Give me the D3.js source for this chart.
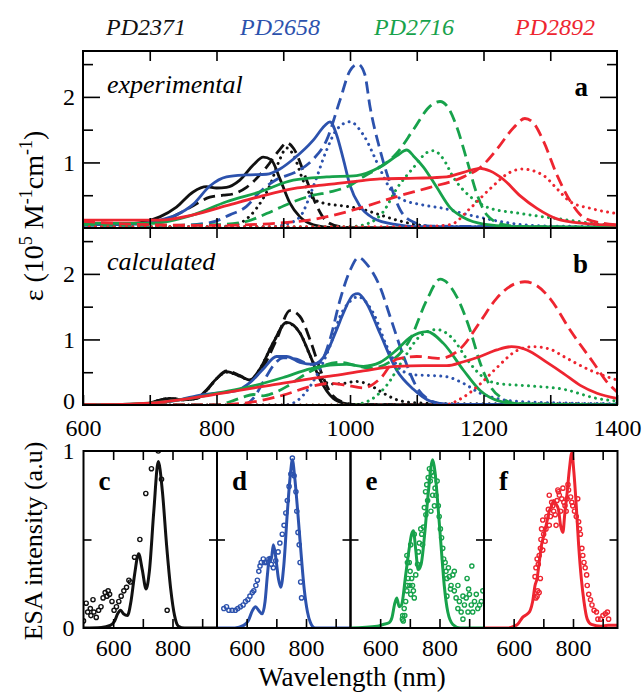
<!DOCTYPE html>
<html><head><meta charset="utf-8">
<script src="https://cdn.jsdelivr.net/npm/d3@7"></script>
<style>
html,body{margin:0;padding:0;background:#fff;}
svg{display:block;}
svg text{font-family:'Liberation Serif','DejaVu Serif',Times,serif;}
</style></head><body>
<svg id="chart" width="643" height="693"></svg>
<script>
// ---------- DATA ----------
const compounds = ["PD2371","PD2658","PD2716","PD2892"];
const colors = ["#111111","#2c52ad","#17a24b","#ee2530"];
const xTicksTop = [600,700,800,900,1000,1100,1200,1300,1400];
const yTicksTop = [0.5,1,1.5,2,2.5];
const xTicksESA = [600,700,800,900];

// (a) experimental  [wavelength nm, epsilon 1e5 M-1 cm-1]
const expK_solid = [[600,0.05],[660,0.06],[690,0.09],[715,0.17],[740,0.32],[765,0.55],[785,0.63],[800,0.61],[815,0.62],[835,0.73],[855,0.96],[870,1.08],[882,1.04],[895,0.75],[910,0.38],[925,0.17],[945,0.05],[970,0.01],[1000,0],[1400,0]];
const expK_dash  = [[600,0.06],[680,0.06],[715,0.1],[740,0.2],[765,0.34],[790,0.47],[810,0.5],[825,0.52],[845,0.62],[875,0.93],[895,1.2],[905,1.3],[915,1.22],[935,0.73],[950,0.34],[965,0.1],[985,0.02],[1010,0],[1400,0]];
const expK_dot   = [[600,0.02],[800,0.02],[820,0.03],[840,0.1],[860,0.3],[880,0.65],[895,1.05],[905,1.22],[915,1.12],[930,0.72],[945,0.45],[960,0.38],[995,0.33],[1020,0.28],[1045,0.2],[1070,0.12],[1095,0.06],[1130,0.02],[1400,0.01]];
const expB_solid = [[600,0.05],[680,0.06],[715,0.12],[740,0.2],[765,0.36],[790,0.64],[815,0.78],[845,0.81],[875,0.82],[895,0.9],[915,1.05],[945,1.34],[962,1.56],[970,1.62],[980,1.42],[990,1.05],[1000,0.65],[1015,0.33],[1035,0.15],[1070,0.05],[1100,0.02],[1400,0.01]];
const expB_dash  = [[600,0.04],[740,0.04],[790,0.08],[820,0.2],[845,0.33],[865,0.55],[890,0.74],[920,0.86],[945,1.05],[965,1.34],[985,1.95],[1000,2.4],[1012,2.5],[1022,2.35],[1030,1.85],[1045,1.19],[1060,0.68],[1075,0.28],[1095,0.09],[1120,0.03],[1400,0.01]];
const expB_dot   = [[600,0.02],[880,0.02],[905,0.06],[925,0.17],[945,0.63],[965,1.19],[980,1.5],[1000,1.62],[1020,1.42],[1045,0.9],[1060,0.6],[1075,0.45],[1110,0.35],[1140,0.3],[1170,0.22],[1200,0.15],[1250,0.06],[1300,0.03],[1400,0.02]];
const expG_solid = [[600,0.07],[700,0.07],[765,0.2],[815,0.4],[865,0.55],[915,0.73],[965,0.78],[1010,0.8],[1045,0.93],[1070,1.1],[1085,1.19],[1095,1.1],[1110,0.93],[1130,0.62],[1150,0.31],[1170,0.16],[1200,0.06],[1250,0.02],[1400,0.01]];
const expG_dash  = [[600,0.05],[700,0.04],[800,0.05],[845,0.1],[875,0.22],[915,0.4],[945,0.5],[970,0.55],[1000,0.65],[1020,0.78],[1045,0.93],[1070,1.14],[1095,1.5],[1120,1.86],[1135,1.93],[1148,1.82],[1160,1.54],[1175,1.04],[1190,0.52],[1205,0.2],[1230,0.05],[1260,0.02],[1400,0.01]];
const expG_dot   = [[600,0.02],[1000,0.02],[1030,0.08],[1050,0.25],[1070,0.6],[1095,0.92],[1115,1.15],[1125,1.18],[1140,1.05],[1155,0.77],[1180,0.48],[1210,0.3],[1250,0.23],[1320,0.13],[1385,0.05],[1400,0.04]];
const expR_solid = [[600,0.12],[715,0.12],[765,0.2],[815,0.34],[865,0.48],[915,0.6],[965,0.66],[1015,0.72],[1045,0.75],[1100,0.76],[1145,0.78],[1170,0.85],[1195,0.91],[1210,0.87],[1230,0.74],[1255,0.49],[1280,0.3],[1310,0.14],[1350,0.07],[1400,0.04]];
const expR_dash  = [[600,0.1],[650,0.07],[700,0.05],[800,0.04],[850,0.05],[900,0.08],[950,0.14],[985,0.22],[1020,0.32],[1070,0.48],[1120,0.62],[1170,0.78],[1195,0.92],[1220,1.2],[1245,1.53],[1262,1.67],[1275,1.6],[1290,1.32],[1310,0.81],[1330,0.41],[1350,0.16],[1380,0.07],[1400,0.05]];
const expR_dot   = [[600,0.02],[1100,0.02],[1150,0.05],[1180,0.3],[1210,0.6],[1240,0.85],[1258,0.9],[1290,0.8],[1310,0.6],[1330,0.4],[1360,0.3],[1400,0.22]];

// (b) calculated
const calK_solid = [[600,0],[690,0.01],[710,0.06],[730,0.1],[750,0.08],[770,0.1],[785,0.23],[800,0.4],[815,0.51],[835,0.44],[850,0.38],[865,0.55],[885,0.95],[905,1.26],[925,1.1],[940,0.76],[955,0.39],[975,0.1],[990,0.03],[1010,0.005],[1400,0]];
const calK_dash  = [[600,0],[690,0.01],[710,0.06],[730,0.1],[750,0.08],[770,0.1],[785,0.22],[800,0.4],[815,0.52],[835,0.45],[850,0.38],[868,0.55],[890,1.0],[910,1.44],[925,1.35],[940,1.0],[955,0.55],[970,0.2],[990,0.04],[1010,0.005],[1400,0]];
const calK_dot   = [[600,0],[690,0.01],[710,0.06],[730,0.1],[750,0.08],[770,0.1],[785,0.22],[800,0.4],[815,0.5],[835,0.44],[850,0.38],[865,0.55],[885,0.95],[905,1.25],[925,1.1],[940,0.76],[955,0.45],[970,0.32],[990,0.33],[1010,0.36],[1030,0.3],[1050,0.18],[1070,0.08],[1090,0.04],[1150,0.02],[1300,0.02],[1400,0.01]];
const calB_solid = [[600,0],[700,0.02],[740,0.07],[770,0.14],[800,0.18],[830,0.22],[850,0.34],[870,0.55],[890,0.74],[905,0.74],[925,0.65],[945,0.62],[965,0.8],[980,1.15],[990,1.4],[1005,1.68],[1012,1.7],[1025,1.55],[1045,1.09],[1070,0.53],[1095,0.24],[1120,0.06],[1150,0.01],[1400,0]];
const calB_dash  = [[600,0],[840,0],[855,0.1],[870,0.35],[885,0.6],[900,0.72],[920,0.7],[940,0.62],[955,0.65],[970,1.0],[985,1.6],[1000,2.05],[1013,2.25],[1025,2.15],[1045,1.8],[1060,1.35],[1080,0.75],[1100,0.27],[1120,0.07],[1140,0.01],[1400,0]];
const calB_dot   = [[600,0],[900,0],[915,0.03],[930,0.15],[950,0.45],[970,0.9],[985,1.35],[1000,1.58],[1012,1.65],[1035,1.4],[1055,0.9],[1075,0.55],[1095,0.46],[1120,0.45],[1145,0.43],[1170,0.33],[1195,0.18],[1220,0.1],[1245,0.06],[1320,0.03],[1400,0.02]];
const calG_solid = [[600,0],[700,0.03],[760,0.1],[800,0.18],[850,0.28],[900,0.42],[940,0.55],[970,0.61],[995,0.62],[1020,0.59],[1045,0.65],[1070,0.84],[1090,1.03],[1115,1.12],[1140,0.94],[1170,0.53],[1195,0.22],[1220,0.07],[1250,0.02],[1400,0]];
const calG_dash  = [[600,0],[800,0],[820,0.05],[840,0.12],[855,0.16],[870,0.14],[885,0.18],[905,0.28],[930,0.45],[955,0.58],[985,0.65],[1010,0.6],[1030,0.56],[1060,0.66],[1090,1.0],[1115,1.6],[1135,1.92],[1160,1.65],[1180,1.14],[1195,0.64],[1210,0.29],[1230,0.09],[1250,0.02],[1400,0]];
const calG_dot   = [[600,0],[1000,0],[1025,0.05],[1055,0.3],[1080,0.7],[1105,1.05],[1130,1.15],[1155,1.0],[1175,0.7],[1200,0.42],[1220,0.33],[1270,0.29],[1320,0.24],[1370,0.1],[1400,0.06]];
const calR_solid = [[600,0],[700,0.03],[760,0.1],[820,0.2],[880,0.3],[940,0.4],[970,0.44],[1020,0.52],[1070,0.59],[1110,0.6],[1145,0.6],[1170,0.66],[1195,0.74],[1220,0.84],[1242,0.89],[1265,0.84],[1295,0.65],[1320,0.48],[1345,0.3],[1370,0.18],[1400,0.1]];
const calR_dash  = [[600,0],[800,0],[850,0.04],[900,0.15],[940,0.28],[970,0.33],[995,0.3],[1020,0.26],[1045,0.4],[1070,0.7],[1100,0.74],[1135,0.71],[1170,0.91],[1195,1.27],[1220,1.63],[1245,1.84],[1262,1.88],[1280,1.82],[1300,1.62],[1330,1.14],[1365,0.64],[1385,0.35],[1400,0.2]];
const calR_dot   = [[600,0],[1140,0],[1170,0.12],[1195,0.32],[1220,0.57],[1250,0.83],[1275,0.89],[1300,0.85],[1320,0.74],[1360,0.53],[1400,0.38]];

// (c-f) ESA intensity: calculated line and measured points
const fitC = [[500,0],[560,0.003],[590,0.015],[605,0.04],[615,0.08],[625,0.1],[635,0.08],[648,0.07],[660,0.15],[672,0.3],[686,0.42],[698,0.33],[711,0.22],[722,0.32],[737,0.66],[752,0.94],[766,0.77],[780,0.47],[794,0.22],[807,0.07],[820,0.01],[840,0],[950,0]];
const fitD = [[500,0],[560,0],[590,0.015],[605,0.04],[620,0.1],[630,0.12],[640,0.1],[652,0.08],[662,0.15],[670,0.3],[677,0.4],[682,0.38],[690,0.47],[698,0.4],[707,0.28],[715,0.23],[725,0.35],[737,0.65],[748,0.88],[754,0.95],[762,0.85],[772,0.66],[782,0.45],[794,0.22],[805,0.09],[815,0.03],[830,0],[950,0]];
const fitE = [[500,0],[590,0.01],[610,0.02],[630,0.03],[640,0.06],[648,0.13],[656,0.17],[664,0.12],[672,0.13],[686,0.3],[698,0.45],[706,0.53],[712,0.55],[720,0.44],[728,0.33],[738,0.36],[750,0.53],[762,0.76],[777,0.95],[785,0.88],[792,0.75],[805,0.47],[816,0.24],[828,0.09],[845,0.02],[870,0],[950,0]];
const fitF = [[500,0],[580,0],[602,0.01],[613,0.02],[630,0.06],[647,0.08],[656,0.1],[664,0.15],[672,0.24],[679,0.28],[686,0.37],[694,0.47],[703,0.53],[712,0.6],[720,0.66],[728,0.69],[735,0.72],[743,0.7],[751,0.67],[758,0.58],[766,0.54],[772,0.64],[780,0.76],[788,0.9],[796,0.99],[803,0.88],[811,0.69],[819,0.47],[828,0.28],[837,0.15],[848,0.05],[862,0.02],[895,0.01],[918,0.015],[950,0.015]];

const ptsC = [[500,0.04],[509,0.14],[514,0.09],[523,0.11],[525,0.07],[532,0.16],[535,0.09],[543,0.06],[551,0.1],[559,0.12],[566,0.17],[573,0.2],[579,0.18],[583,0.21],[588,0.19],[596,0.15],[603,0.1],[611,0.12],[619,0.15],[627,0.18],[636,0.21],[645,0.23],[653,0.27],[658,0.26],[672,0.4],[690,0.5],[710,0.76],[729,0.9],[752,1.0],[763,0.84],[782,0.1]];
const ptsD = [[523,0.11],[532,0.12],[540,0.1],[551,0.1],[562,0.1],[570,0.11],[579,0.12],[588,0.13],[596,0.15],[604,0.16],[611,0.18],[619,0.2],[624,0.21],[631,0.24],[636,0.27],[641,0.32],[645,0.35],[649,0.37],[656,0.39],[660,0.37],[667,0.37],[675,0.39],[683,0.36],[690,0.34],[698,0.38],[706,0.43],[712,0.48],[720,0.53],[726,0.58],[732,0.65],[737,0.72],[743,0.8],[749,0.87],[754,0.96],[760,0.86],[766,0.77],[769,0.66],[773,0.54],[777,0.47],[780,0.37],[782,0.26],[785,0.17]];
const ptsE = [[675,0.05],[676,0.07],[681,0.11],[686,0.15],[690,0.21],[692,0.24],[694,0.28],[690,0.41],[698,0.37],[701,0.32],[706,0.28],[709,0.24],[712,0.21],[715,0.17],[720,0.3],[726,0.36],[729,0.43],[732,0.48],[737,0.56],[740,0.53],[743,0.47],[746,0.57],[749,0.68],[753,0.77],[757,0.81],[762,0.85],[766,0.9],[769,0.83],[773,0.88],[777,0.75],[780,0.86],[785,0.79],[788,0.75],[792,0.83],[796,0.69],[799,0.63],[803,0.56],[807,0.51],[811,0.45],[814,0.39],[819,0.37],[822,0.32],[825,0.28],[830,0.34],[833,0.29],[839,0.24],[845,0.3],[850,0.21],[856,0.17],[862,0.11],[867,0.15],[873,0.09],[879,0.05],[884,0.13],[890,0.17],[893,0.28],[898,0.22],[901,0.19],[907,0.13],[909,0.35],[912,0.09],[918,0.15],[924,0.19],[929,0.11],[935,0.13],[941,0.15],[946,0.21],[896,0.09],[879,0.18],[850,0.32],[862,0.24],[837,0.22],[825,0.18],[715,0.53],[703,0.47],[692,0.37],[700,0.24],[703,0.19],[683,0.07],[678,0.04],[783,0.69],[771,0.66],[754,0.64],[760,0.72]];
const ptsF = [[672,0.29],[675,0.34],[679,0.39],[683,0.36],[686,0.41],[690,0.45],[694,0.56],[698,0.61],[692,0.5],[701,0.53],[706,0.49],[709,0.56],[712,0.63],[717,0.67],[720,0.58],[724,0.63],[728,0.71],[732,0.69],[735,0.66],[740,0.64],[743,0.58],[746,0.72],[751,0.77],[754,0.75],[758,0.66],[762,0.73],[766,0.79],[769,0.71],[773,0.69],[777,0.66],[780,0.73],[785,0.78],[792,0.74],[796,0.71],[799,0.69],[805,0.66],[811,0.63],[816,0.73],[819,0.6],[822,0.56],[825,0.53],[830,0.45],[833,0.41],[837,0.37],[841,0.34],[846,0.3],[848,0.24],[853,0.19],[859,0.16],[864,0.13],[871,0.1],[879,0.09],[884,0.05],[893,0.05],[901,0.07],[909,0.08],[916,0.09],[920,0.05],[681,0.21],[675,0.17],[679,0.18],[686,0.2],[698,0.44],[690,0.28],[720,0.75],[749,0.78],[783,0.81]];

// ---------- BUILD ----------
const expSeries = [[expK_solid,expK_dash,expK_dot],[expB_solid,expB_dash,expB_dot],[expG_solid,expG_dash,expG_dot],[expR_solid,expR_dash,expR_dot]];
const calSeries = [[calK_solid,calK_dash,calK_dot],[calB_solid,calB_dash,calB_dot],[calG_solid,calG_dash,calG_dot],[calR_solid,calR_dash,calR_dot]];
const esaFits = [fitC, fitD, fitE, fitF];
const esaPts = [ptsC, ptsD, ptsE, ptsF];
const esaLetters = ["c","d","e","f"];

const svg = d3.select("#chart");
const X0=83, X1=617, YT=51, YM=228, YB=405;
const x = d3.scaleLinear().domain([600,1400]).range([X0,X1]);
const yA = d3.scaleLinear().domain([0,2.7]).range([YM,YT]);
const yB = d3.scaleLinear().domain([0,2.7]).range([YB,YM]);
const dashes = [null, "12,6", "0.01,6.2"];
let clipId = 0;

function styleAxis(g){
  g.select(".domain").remove();
  g.attr("font-family", null).attr("font-size", 24);
  g.selectAll("line").attr("stroke","#000").attr("stroke-width",1.6);
  g.selectAll("text").attr("fill","#000");
}
function clipRect(x0,y0,w,h){
  const id = "clip"+(clipId++);
  svg.append("clipPath").attr("id",id).append("rect").attr("x",x0).attr("y",y0).attr("width",w).attr("height",h);
  return "url(#"+id+")";
}

function topPanel(y, series, word, letter, labelsY, showX){
  const [yb, yt] = y.range();
  const cp = clipRect(X0, yt, X1-X0, yb-yt);
  const g = svg.append("g");
  const line = d3.line().x(d=>x(d[0])).y(d=>y(d[1])).curve(d3.curveMonotoneX);
  series.forEach((trip,i)=>trip.forEach((data,j)=>{
    g.append("path").datum(data).attr("d",line).attr("clip-path",cp)
      .attr("fill","none").attr("stroke",colors[i])
      .attr("stroke-width", j===2?3:2.8)
      .attr("stroke-dasharray", dashes[j])
      .attr("stroke-linecap", j===2?"round":"butt")
      .attr("stroke-linejoin","round");
  }));
  const minorY = yTicksTop.filter(v=>v%1!==0), majorY = yTicksTop.filter(v=>v%1===0);
  svg.append("g").attr("transform",`translate(${X0},0)`).call(d3.axisLeft(y).tickValues(minorY).tickSize(-10).tickFormat("")).call(styleAxis);
  svg.append("g").attr("transform",`translate(${X0},0)`).call(d3.axisLeft(y).tickValues(majorY).tickSize(-17).tickFormat("")).call(styleAxis);
  svg.append("g").attr("transform",`translate(${X0},0)`).call(d3.axisLeft(y).tickValues(labelsY).tickSize(0).tickPadding(8).tickFormat(d3.format("d")))
    .call(styleAxis).call(g=>g.selectAll("text").filter(d=>d===0).attr("dy","0.15em"));
  svg.append("g").attr("transform",`translate(${X1},0)`).call(d3.axisRight(y).tickValues(minorY).tickSize(-10).tickFormat("")).call(styleAxis);
  svg.append("g").attr("transform",`translate(${X1},0)`).call(d3.axisRight(y).tickValues(majorY).tickSize(-17).tickFormat("")).call(styleAxis);
  svg.append("g").attr("transform",`translate(0,${yt})`).call(d3.axisTop(x).tickValues(xTicksTop.slice(1,-1)).tickSize(-10).tickFormat("")).call(styleAxis);
  svg.append("g").attr("transform",`translate(0,${yb})`).call(d3.axisBottom(x).tickValues(showX?xTicksTop:xTicksTop.slice(1,-1)).tickSize(-10).tickPadding(14)
      .tickFormat(d=> showX && d%200===0 ? d3.format("d")(d) : "")).call(styleAxis);
  svg.append("rect").attr("x",X0).attr("y",yt).attr("width",X1-X0).attr("height",yb-yt)
    .attr("fill","none").attr("stroke","#000").attr("stroke-width",2);
  svg.append("text").attr("x",107).attr("y",yt+42).attr("font-style","italic")
    .attr("font-size",26).text(word);
  svg.append("text").attr("x",588).attr("y",yt+45).attr("text-anchor","end")
    .attr("font-weight","bold").attr("font-size",27).text(letter);
}

topPanel(yA, expSeries, "experimental", "a", [1,2], false);
topPanel(yB, calSeries, "calculated", "b", [0,1,2], true);

// compound labels
const legendX = [146, 280, 414, 555];
compounds.forEach((c,i)=>{
  svg.append("text").attr("x",legendX[i]).attr("y",35).attr("text-anchor","middle")
    .attr("font-style","italic").attr("font-size",24)
    .attr("fill",colors[i]).text(c);
});

// y label top
const yl = svg.append("text").attr("transform","translate(43,216) rotate(-90)")
  .attr("text-anchor","middle").attr("font-size",28).attr("fill","#000");
yl.append("tspan").text("\u03b5   (10");
yl.append("tspan").attr("dy",-11).attr("font-size",18).text("5");
yl.append("tspan").attr("dy",11).text(" M");
yl.append("tspan").attr("dy",-11).attr("font-size",18).text("-1");
yl.append("tspan").attr("dy",11).text("cm");
yl.append("tspan").attr("dy",-11).attr("font-size",18).text("-1");
yl.append("tspan").attr("dy",11).text(")");

// ---------- ESA panels ----------
const BX = [83.5, 217, 350.5, 484, 617.5];
const BT = 451, BBot = 628;
const yE = d3.scaleLinear().domain([0,1]).range([BBot,BT]);
esaFits.forEach((fit,k)=>{
  const xs = d3.scaleLinear().domain([500,950]).range([BX[k],BX[k+1]]);
  const cp = clipRect(BX[k], BT, BX[k+1]-BX[k], BBot-BT);
  const g = svg.append("g");
  g.selectAll("circle").data(esaPts[k]).join("circle")
    .attr("cx",d=>xs(d[0])).attr("cy",d=>yE(d[1])).attr("r",2.1)
    .attr("fill","none").attr("stroke",colors[k]).attr("stroke-width",1.4).attr("clip-path",cp);
  g.append("path").datum(fit).attr("d",d3.line().x(d=>xs(d[0])).y(d=>yE(d[1])).curve(d3.curveMonotoneX))
    .attr("fill","none").attr("stroke",colors[k]).attr("stroke-width",3).attr("stroke-linejoin","round").attr("clip-path",cp);
  svg.append("g").attr("transform",`translate(0,${BBot})`).call(d3.axisBottom(xs).tickValues(xTicksESA).tickSize(-9).tickPadding(11)
    .tickFormat(d=> d%200===0 ? d3.format("d")(d) : "")).call(styleAxis);
  svg.append("g").attr("transform",`translate(0,${BT})`).call(d3.axisTop(xs).tickValues(xTicksESA).tickSize(-9).tickFormat("")).call(styleAxis);
  svg.append("g").attr("transform",`translate(${BX[k]},0)`).call(d3.axisLeft(yE).tickValues([0.5]).tickSize(-8).tickFormat("")).call(styleAxis);
  svg.append("g").attr("transform",`translate(${BX[k+1]},0)`).call(d3.axisRight(yE).tickValues([0.5]).tickSize(-8).tickFormat("")).call(styleAxis);
  if(k===0){
    svg.append("g").attr("transform",`translate(${BX[0]},0)`).call(d3.axisLeft(yE).tickValues([0,1]).tickSize(0).tickPadding(9).tickFormat(d3.format("d"))).call(styleAxis);
  }
  svg.append("rect").attr("x",BX[k]).attr("y",BT).attr("width",BX[k+1]-BX[k]).attr("height",BBot-BT)
    .attr("fill","none").attr("stroke","#000").attr("stroke-width",2);
  svg.append("text").attr("x",BX[k]+15).attr("y",BT+39).attr("font-weight","bold")
    .attr("font-size",27).text(esaLetters[k]);
});

svg.append("text").attr("transform","translate(42,541) rotate(-90)").attr("text-anchor","middle")
  .attr("font-size",26).text("ESA intensity (a.u)");
svg.append("text").attr("x",352).attr("y",686).attr("text-anchor","middle")
  .attr("font-size",27).text("Wavelength (nm)");
</script>
</body></html>
